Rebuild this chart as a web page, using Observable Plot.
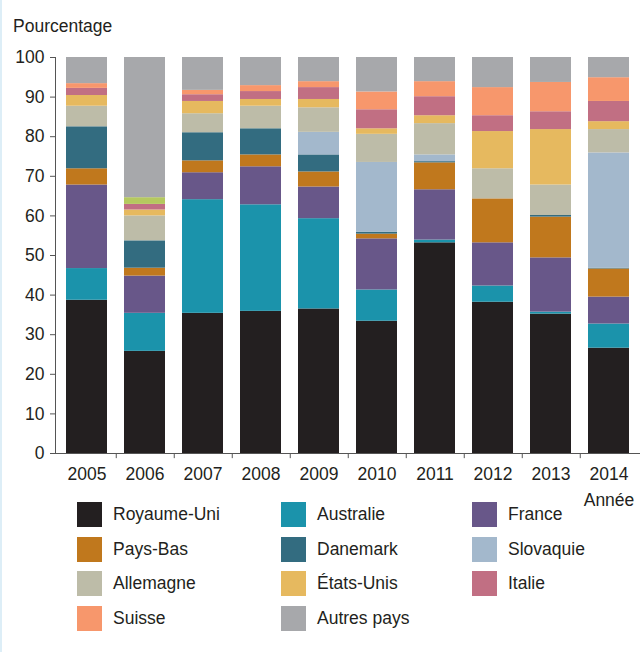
<!DOCTYPE html>
<html><head><meta charset="utf-8">
<script src="https://cdn.jsdelivr.net/npm/d3@7"></script>
<script src="https://cdn.jsdelivr.net/npm/@observablehq/plot@0.6"></script>
<style>
body{margin:0;background:#fff;font-family:"Liberation Sans",Arial,sans-serif;color:#231f20;}
#wrap{position:relative;width:641px;height:652px;overflow:hidden;}
#edge{position:absolute;left:0;top:0;width:2px;height:652px;background:#ddeef7;}
#ylabel{position:absolute;left:13px;top:16px;font-size:17.5px;line-height:20px;}
#legend{position:absolute;left:77px;top:502px;display:grid;grid-template-columns:204px 191px 160px;row-gap:9.7px;font-size:17.5px;}
.item{display:flex;align-items:center;height:25px;white-space:nowrap;}
.sw{width:25px;height:25px;margin-right:11px;flex:none;}
</style></head><body>
<div id="wrap"><div id="chart"></div><div id="edge"></div><div id="ylabel">Pourcentage</div><div id="legend"></div></div>
<script>
// ---- data (percentages) ----
const years = [2005, 2006, 2007, 2008, 2009, 2010, 2011, 2012, 2013, 2014];
const yTicks = [0, 10, 20, 30, 40, 50, 60, 70, 80, 90, 100];
const royaumeUni = [38.7, 25.8, 35.4, 35.9, 36.5, 33.4, 53.2, 38.2, 35.2, 26.6];
const australie  = [8.0, 9.6, 28.7, 26.9, 22.8, 7.9, 0.7, 4.1, 0.5, 6.1];
const france     = [21.1, 9.4, 6.8, 9.6, 8.0, 12.9, 12.7, 10.9, 13.7, 6.8];
const paysBas    = [4.1, 2.0, 3.0, 3.0, 3.8, 1.2, 6.8, 11.1, 10.3, 7.1];
const danemark   = [10.6, 6.9, 7.1, 6.6, 4.3, 0.5, 0.3, 0, 0.4, 0.2];
const slovaquie  = [0, 0, 0, 0, 5.7, 17.6, 1.7, 0, 0, 29.1];
const allemagne  = [5.2, 6.3, 4.8, 5.7, 6.2, 7.1, 7.9, 7.6, 7.7, 5.9];
const etatsUnis  = [2.7, 1.5, 3.1, 1.7, 2.1, 1.4, 2.0, 9.4, 14.0, 2.0];
const italie     = [1.8, 1.4, 1.7, 2.0, 3.0, 4.8, 4.8, 4.0, 4.5, 5.1];
const suisse     = [1.2, 0, 1.1, 1.5, 1.5, 4.5, 3.8, 7.1, 7.4, 6.0];
const nonLegende = [0, 1.7, 0, 0, 0, 0, 0, 0, 0, 0];
const autresPays = [6.6, 35.4, 8.3, 7.1, 6.1, 8.7, 6.1, 7.6, 6.3, 5.1];

const seriesNames = ["Royaume-Uni", "Australie", "France", "Pays-Bas", "Danemark", "Slovaquie",
  "Allemagne", "États-Unis", "Italie", "Suisse", "(non légendé)", "Autres pays"];
const seriesValues = [royaumeUni, australie, france, paysBas, danemark, slovaquie,
  allemagne, etatsUnis, italie, suisse, nonLegende, autresPays];
const legendNames = ["Royaume-Uni", "Australie", "France", "Pays-Bas", "Danemark", "Slovaquie",
  "Allemagne", "États-Unis", "Italie", "Suisse", "Autres pays"];
const colors = ["#231f20", "#1b93ab", "#685789", "#c0781d", "#336c80", "#a3b8cc",
  "#bdbca8", "#e6b95f", "#c16f83", "#f7976c", "#b5c95f", "#a7a8ab"];

const data = [];
seriesNames.forEach((name, i) => seriesValues[i].forEach((v, j) => data.push({year: years[j], country: name, value: v})));

// ---- layout ----
const W = 641, H = 512, mL = 55, mR = 1, mT = 57, mB = 59;
const pI = 0.3, pO = 0.15;
const step = (W - mL - mR) / (years.length - pI + 2 * pO);
const axisColor = "#555";

const chart = Plot.plot({
  width: W, height: H, marginLeft: mL, marginRight: mR, marginTop: mT, marginBottom: mB,
  style: {fontFamily: '"Liberation Sans", Arial, sans-serif', fontSize: "17.5px", color: "#231f20", background: "transparent", overflow: "visible"},
  x: {type: "band", domain: years, paddingInner: pI, paddingOuter: pO},
  y: {domain: [0, 100]},
  color: {domain: seriesNames, range: colors},
  marks: [
    Plot.barY(data, {x: "year", y: "value", fill: "country", z: "country"}),
    Plot.axisY({ticks: yTicks, tickSize: 5, tickPadding: 6, label: null, stroke: axisColor, fill: "#231f20"}),
    Plot.axisX({tickSize: 0, tickPadding: 14, label: null, fill: "#231f20", tickFormat: d => String(d)}),
    Plot.frame({anchor: "left", stroke: axisColor}),
    Plot.ruleY([0], {stroke: axisColor}),
    Plot.ruleX(years.slice(0, -1), {x: d => d, y1: 0, y2: -1.3, dx: step / 2, stroke: axisColor}),
    Plot.text(["Année"], {x: [years[years.length - 1]], text: d => d, frameAnchor: "bottom", lineAnchor: "middle", dy: 46.4, fill: "#231f20"})
  ]
});
document.getElementById("chart").append(chart);

// ---- legend ----
const legend = document.getElementById("legend");
legendNames.forEach(name => {
  const item = document.createElement("div");
  item.className = "item";
  const sw = document.createElement("span");
  sw.className = "sw";
  sw.style.background = colors[seriesNames.indexOf(name)];
  const t = document.createElement("span");
  t.textContent = name;
  item.append(sw, t);
  legend.append(item);
});
</script>
</body></html>
